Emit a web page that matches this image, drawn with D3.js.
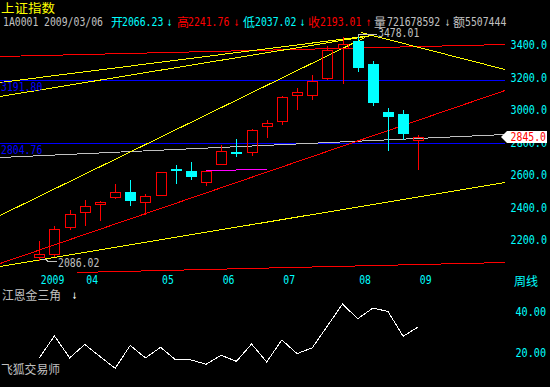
<!DOCTYPE html>
<html><head><meta charset="utf-8">
<script src="https://cdn.jsdelivr.net/npm/d3@7"></script>
<style>html,body{margin:0;padding:0;background:#000;overflow:hidden}svg{display:block}</style>
</head><body><svg id="c" width="550" height="387"></svg>
<script>
// ---------- data ----------
const opens  = [2104,2127,2291,2383,2429,2472,2506,2447,2490,2646,2635,2564,2675,2754,2749,2909,2939,3099,3103,3208,3391,3434,3292,2995,2984,2823];
const highs  = [2205,2295,2392,2455,2451,2555,2578,2494,2631,2671,2689,2637,2794,2831,2890,2947,3097,3144,3223,3401,3456,3478.01,3311,3023,3009,2857];
const lows   = [2086.02,2115,2281,2303,2332,2468,2426,2373,2486,2562,2583,2546,2675,2728,2734,2845,2925,3017,3077,3200,3177,3251,3042,2763,2831,2644];
const closes = [2127,2281,2373,2418,2443,2504,2451,2478,2627,2642,2599,2632,2757,2749,2884,2929,3087,3120,3189,3376,3415,3269,3054,2968,2861,2845];
const priceTicks = [3400,3200,3000,2800,2600,2400,2200];
const monthLabels = ["2009","04","05","06","07","08","09"];
const monthIndex  = [0,3,8,12,16,21,25];
const indicator = [17.5,28.3,17.5,24.1,18.2,12.4,23.6,17.5,22.7,16.5,16.5,14.4,18.8,15.8,24.3,15.5,26.3,19.6,22.4,33.1,43.9,36.7,41.9,40.3,28.1,32.7];
const indTicks = [40,20];
const blueLevels = [3191.80, 2804.76];
const lastPrice = 2845.0;
const highMark = 3478.01, highIdx = 21;
const lowMark = 2086.02, lowIdx = 0;
// trend lines: [index0, value0, index1, value1]
const yellowLines = [
  [-2.59,3181,21.94,3470],
  [-2.59,3095,21.94,3470],
  [-2.59,2361,21.48,3458],
  [21.2,3490,30.72,3261],
  [-2.59,2050,30.72,2566]
];
const redLines = [
  [-2.59,3341,30.72,3413],
  [-2.59,2069,30.72,3134],
  [2.49,2015,30.72,2073]
];
const grayLines = [[-2.59,2720,30.72,2862]];
const magentaLines = [[11,2638,13,2638],[13,2644,15,2644]];

// ---------- scales ----------
const svg = d3.select("#c");
svg.append("rect").attr("width",550).attr("height",387).attr("fill","#000");
const x = d3.scaleLinear().domain([0,25]).range([39.3,418.3]);
const y = d3.scaleLinear().domain([2200,3400]).range([241.7,46.4]);
const yi = d3.scaleLinear().domain([20,40]).range([352.8,312]);

const MONO = "'DejaVu Sans Mono', monospace";
const CJK = "'Noto Sans CJK SC', sans-serif";
function txt(g, px, py, s, color, opt={}) {
  const t = g.append("text").attr("x",px).attr("y",py).text(s)
    .attr("fill",color).attr("font-size",opt.size||12)
    .attr("font-family",opt.cjk?CJK:MONO)
    .attr("dominant-baseline","central");
  if (opt.anchor) t.attr("text-anchor",opt.anchor);
  if (opt.len) t.attr("textLength",opt.len).attr("lengthAdjust","spacingAndGlyphs");
  return t;
}

// ---------- header ----------
const hdr = svg.append("g");
txt(hdr,1,7,"上证指数","#ffff00",{cjk:true,size:12.5,len:54});
const CW = 5.9;
const segs = [
  [3,"1A0001","#c0c0c0"],[44,"2009/03/06","#c0c0c0"],
  [111,"开","#00ffff",1],[122,"2066.23","#00ffff"],[167,"↓","#00ffff"],
  [177,"高","#ff0000",1],[188,"2241.76","#ff0000"],[234,"↓","#ff0000"],
  [243,"低","#00ffff",1],[255,"2037.02","#00ffff"],[300,"↓","#00ffff"],
  [308,"收","#ff0000",1],[320,"2193.01","#ff0000"],[366,"↑","#ff0000"],
  [374,"量","#c0c0c0",1],[387,"721678592","#c0c0c0"],[445,"↓","#c0c0c0"],
  [453,"额","#c0c0c0",1],[465,"5507444","#c0c0c0"]
];
segs.forEach(s=>{
  if (s[3]) txt(hdr,s[0],21.5,s[1],s[2],{cjk:true,size:12});
  else if (s[1]==="↓"||s[1]==="↑") txt(hdr,s[0],21.5,s[1],s[2],{size:12,len:5});
  else txt(hdr,s[0],21.5,s[1],s[2],{len:s[1].length*CW});
});

// ---------- main plot ----------
svg.append("clipPath").attr("id","clipMain").append("rect").attr("x",0).attr("y",27).attr("width",505).attr("height",250);
const main = svg.append("g").attr("clip-path","url(#clipMain)");
const lineGen = d => `M${x(d[0])},${Math.round(y(d[1]))+0.5}L${x(d[2])},${Math.round(y(d[3]))+0.5}`;

// blue horizontal levels
main.selectAll(".blue").data(blueLevels).enter().append("line")
  .attr("x1",0).attr("x2",505)
  .attr("y1",d=>Math.round(y(d))+0.5).attr("y2",d=>Math.round(y(d))+0.5)
  .attr("stroke","#0000ff").attr("stroke-width",1).attr("shape-rendering","crispEdges");
function drawLines(data,color){
  main.selectAll(null).data(data).enter().append("path").attr("d",lineGen)
   .attr("stroke",color).attr("stroke-width",1).attr("fill","none").attr("shape-rendering","crispEdges");
}
drawLines(grayLines,"#c0c0c0");
drawLines(magentaLines,"#ff00ff");
drawLines(redLines,"#ff0000");
drawLines(yellowLines,"#ffff00");

// candles
const idx = d3.range(opens.length);
const cg = main.append("g").attr("shape-rendering","crispEdges");
idx.forEach(i=>{
  const cx = Math.round(x(i));
  const up = closes[i] >= opens[i];
  const yTop = Math.round(y(Math.max(opens[i],closes[i])));
  let yBot = Math.round(y(Math.min(opens[i],closes[i])));
  const yH = Math.round(y(highs[i])), yL = Math.round(y(lows[i]));
  if (up) {
    const col = "#ff0000";
    cg.append("line").attr("x1",cx+0.5).attr("x2",cx+0.5).attr("y1",yH).attr("y2",yTop).attr("stroke",col);
    cg.append("line").attr("x1",cx+0.5).attr("x2",cx+0.5).attr("y1",yBot).attr("y2",yL+1).attr("stroke",col);
    cg.append("rect").attr("x",cx-4.5).attr("y",yTop+0.5).attr("width",10).attr("height",Math.max(1,yBot-yTop))
      .attr("fill","none").attr("stroke",col);
  } else {
    const col = "#00ffff";
    if (yBot-yTop<2) yBot = yTop+2;
    cg.append("line").attr("x1",cx+0.5).attr("x2",cx+0.5).attr("y1",yH).attr("y2",yL+1).attr("stroke",col);
    cg.append("rect").attr("x",cx-5).attr("y",yTop).attr("width",11).attr("height",yBot-yTop).attr("fill",col);
  }
});

// high / low annotations
const hx = Math.round(x(highIdx)), hy = Math.round(y(highMark));
main.append("path").attr("d",`M${hx+0.5},${hy+3}V${hy+0.5}H${hx+19}`).attr("stroke","#c0c0c0").attr("fill","none").attr("shape-rendering","crispEdges");
txt(main,hx+20,hy-1,highMark.toFixed(2),"#c0c0c0",{len:7*CW});
const lx = Math.round(x(lowIdx)), ly = Math.round(y(lowMark));
main.append("path").attr("d",`M${lx+2},${ly-0.5}H${lx+7}L${lx+9},${ly+1.5}H${lx+18}`).attr("stroke","#c0c0c0").attr("fill","none").attr("shape-rendering","crispEdges");
txt(main,lx+19,ly+2.5,lowMark.toFixed(2),"#c0c0c0",{len:7*CW});

// blue level labels
blueLevels.forEach(v=>{
  txt(svg,1,Math.round(y(v))+6.5,v.toFixed(2),"#0000ff",{len:7*CW});
});

// price axis labels
priceTicks.forEach(v=>{
  txt(svg,547,y(v)-1.4,v.toFixed(1),"#00ffff",{anchor:"end",len:6*CW+1});
});
// last price marker
const ly2 = Math.round(y(lastPrice));
svg.append("path").attr("d",`M501,${ly2}L507,${ly2-6}H547V${ly2+6}H507Z`).attr("fill","#ffffff");
txt(svg,546,ly2,lastPrice.toFixed(1),"#ff0000",{anchor:"end",len:6*CW});

// month labels
monthLabels.forEach((m,k)=>{
  txt(svg,x(monthIndex[k])+1.5,279.8,m,"#00ffff",{len:m.length*CW});
});
txt(svg,514,280,"周线","#00ffff",{cjk:true,size:12});

// ---------- indicator panel ----------
txt(svg,2,294.5,"江恩金三角","#c0c0c0",{cjk:true,size:12,len:59});
txt(svg,72,294.5,"↓","#ffffff",{size:12,len:5});
txt(svg,1,368,"飞狐交易师","#c0c0c0",{cjk:true,size:12,len:59});
indTicks.forEach(v=>{
  txt(svg,546,yi(v),v.toFixed(2),"#00ffff",{anchor:"end",len:5*CW+1});
});
const indLine = d3.line().x((d,i)=>x(i)).y(d=>yi(d));
svg.append("path").datum(indicator).attr("d",indLine).attr("fill","none").attr("stroke","#ffffff").attr("stroke-width",1).attr("shape-rendering","crispEdges");
</script></body></html>
